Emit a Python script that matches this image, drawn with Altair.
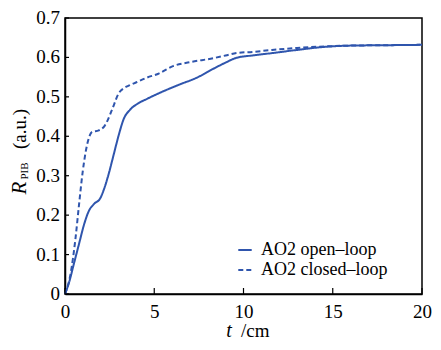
import altair as alt
import pandas as pd

# Open-loop (solid)
open_t = [0, 0.22, 0.5, 0.78, 1.06, 1.34, 1.62, 1.99, 2.17, 2.45, 2.73, 3.01, 3.29, 3.66,
          4.12, 4.6, 5.3, 6.4, 7.4, 8.3, 9.0, 9.6, 10.5, 11.6, 13, 14.6, 16, 18, 20]
open_r = [0, 0.028, 0.077, 0.126, 0.175, 0.211, 0.228, 0.244, 0.264, 0.305, 0.354, 0.403,
          0.444, 0.468, 0.484, 0.495, 0.51, 0.531, 0.549, 0.571, 0.587, 0.599, 0.605,
          0.611, 0.619, 0.627, 0.630, 0.631, 0.632]
# Closed-loop (dashed)
closed_t = [0, 0.32, 0.59, 0.78, 1.0, 1.24, 1.52, 1.89, 2.23, 2.64, 3.01, 3.3, 3.6, 4.0,
            4.6, 5.2, 6.05, 7.0, 8.3, 9.0, 9.6, 10.5, 11.6, 13, 14.6, 16, 18, 20]
closed_r = [0, 0.053, 0.142, 0.224, 0.313, 0.379, 0.411, 0.415, 0.427, 0.468, 0.509, 0.522,
            0.529, 0.537, 0.549, 0.558, 0.578, 0.588, 0.598, 0.605, 0.611, 0.614, 0.619,
            0.624, 0.628, 0.630, 0.631, 0.632]

series_names = ["AO2 open\u2013loop", "AO2 closed\u2013loop"]
x_ticks = [0, 5, 10, 15, 20]
y_ticks = [0, 0.1, 0.2, 0.3, 0.4, 0.5, 0.6, 0.7]
y_tick_labels = ["0", "0.1", "0.2", "0.3", "0.4", "0.5", "0.6", "0.7"]

BLUE = "#2f55ad"
FONT = "Liberation Serif"
W, H = 357, 276

df = pd.concat([
    pd.DataFrame({"t": open_t, "r": open_r, "s": series_names[0], "o": range(len(open_t))}),
    pd.DataFrame({"t": closed_t, "r": closed_r, "s": series_names[1], "o": range(len(closed_t))}),
])

xs = alt.Scale(domain=[0, 20], nice=False)
ys = alt.Scale(domain=[0, 0.7], nice=False)

lines = alt.Chart(df).mark_line(strokeWidth=2, color=BLUE, interpolate="monotone").encode(
    x=alt.X("t:Q", scale=xs,
            axis=alt.Axis(values=x_ticks, title=None, ticks=False, labelPadding=8,
                          labelFont=FONT, labelFontSize=19, labelColor="black",
                          domainColor="black", domainWidth=1.5, grid=False,
                          labelFlush=False, labelOverlap=False)),
    y=alt.Y("r:Q", scale=ys,
            axis=alt.Axis(values=y_ticks, title=None, ticks=False, labels=False,
                          domainColor="black", domainWidth=1.5, grid=False)),
    strokeDash=alt.StrokeDash("s:N", scale=alt.Scale(domain=series_names, range=[[1, 0], [5, 3]]),
                              legend=alt.Legend(title=None, orient="none", legendX=171, legendY=223,
                                                symbolType="stroke", symbolSize=180,
                                                symbolStrokeColor=BLUE, symbolStrokeWidth=2,
                                                labelFont=FONT, labelFontSize=18, labelColor="black",
                                                rowPadding=2, labelOffset=7)),
    order="o:Q",
)

xt = pd.DataFrame({"v": x_ticks})
yt = pd.DataFrame({"v": y_ticks, "lab": y_tick_labels})
xtick_rules = alt.Chart(xt).mark_rule(color="black", strokeWidth=1.2).encode(
    x=alt.X("v:Q", scale=xs), y=alt.value(H), y2=alt.value(H - 6))
ytick_rules = alt.Chart(yt).mark_rule(color="black", strokeWidth=1.2).encode(
    y=alt.Y("v:Q", scale=ys), x=alt.value(0), x2=alt.value(4))
ytick_labels = alt.Chart(yt).mark_text(font=FONT, fontSize=19, align="right", baseline="middle",
                                       color="black").encode(
    y=alt.Y("v:Q", scale=ys), x=alt.value(-5), text="lab:N")

r_txt = alt.Chart(pd.DataFrame({"txt": ["R"]})).mark_text(font=FONT, fontStyle="italic", fontSize=21, angle=270,
                                         align="center", baseline="middle", color="black").encode(
    text="txt:N", x=alt.value(-45), y=alt.value(170))
sub_txt = alt.Chart(pd.DataFrame({"txt": ["PIB"]})).mark_text(font=FONT, fontSize=11, angle=270,
                                         align="center", baseline="middle", color="black").encode(
    text="txt:N", x=alt.value(-40), y=alt.value(153))
au_txt = alt.Chart(pd.DataFrame({"txt": ["(a.u.)"]})).mark_text(font=FONT, fontSize=19, angle=270,
                                         align="center", baseline="middle", color="black").encode(
    text="txt:N", x=alt.value(-45), y=alt.value(111))
t_txt = alt.Chart(pd.DataFrame({"txt": ["t"]})).mark_text(font=FONT, fontStyle="italic", fontSize=20,
                                         align="center", baseline="middle", color="black").encode(
    text="txt:N", x=alt.value(164), y=alt.value(313))
cm_txt = alt.Chart(pd.DataFrame({"txt": ["/cm"]})).mark_text(font=FONT, fontSize=19,
                                         align="left", baseline="middle", color="black").encode(
    text="txt:N", x=alt.value(176), y=alt.value(313))

chart = alt.layer(lines, xtick_rules, ytick_rules, ytick_labels, r_txt, sub_txt, au_txt,
                  t_txt, cm_txt).properties(
    width=W, height=H,
    autosize=alt.AutoSizeParams(type="none"),
    padding={"left": 57, "top": 10, "right": 11, "bottom": 48},
    background="white",
).configure_view(stroke="black", strokeWidth=1.5)

chart.save("out.html", embed_options={"renderer": "svg", "actions": False})
